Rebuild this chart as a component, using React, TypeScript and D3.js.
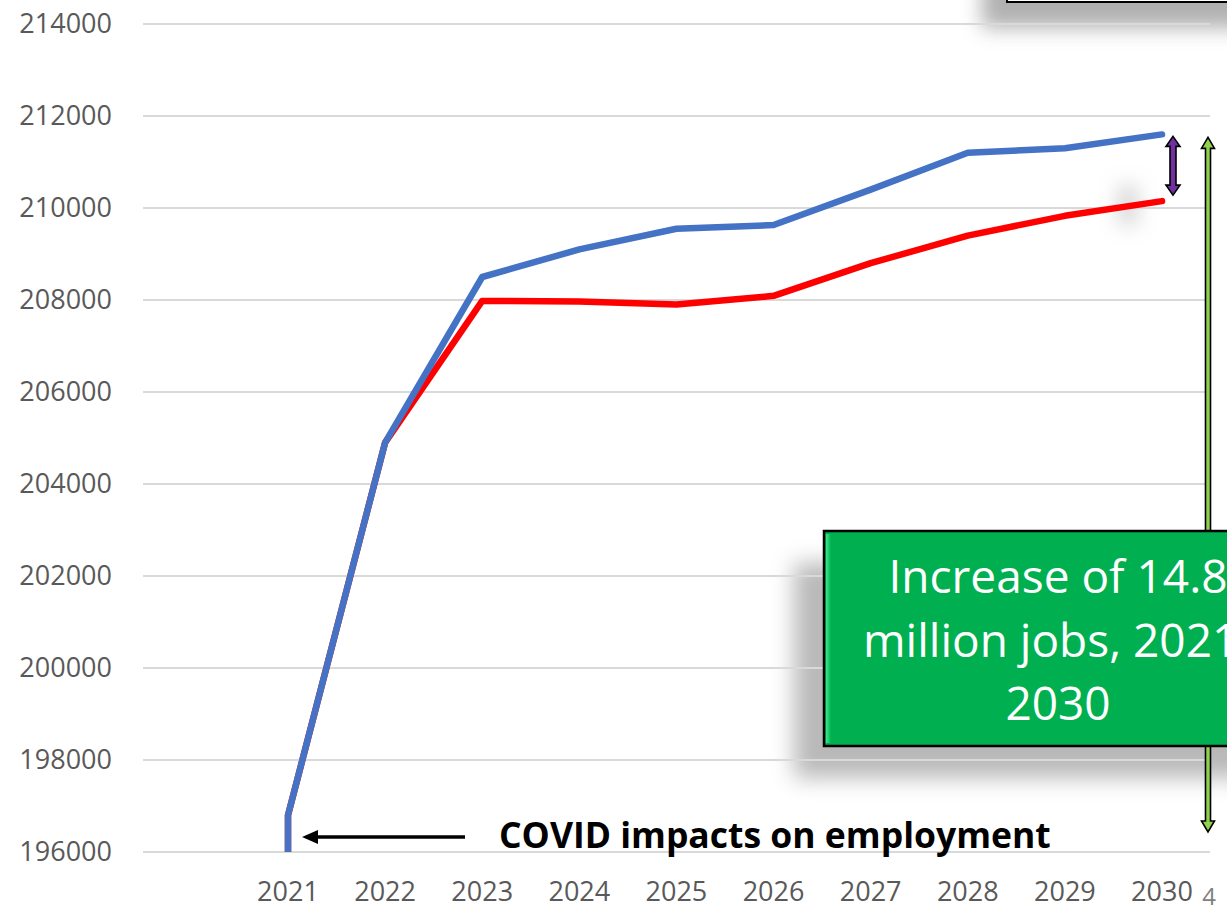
import React from "react";
import * as d3 from "d3";

const years = [2021, 2022, 2023, 2024, 2025, 2026, 2027, 2028, 2029, 2030];
const blueSeries = [196800, 204900, 208500, 209100, 209550, 209630, 210400, 211200, 211300, 211600];
const redSeries = [196800, 204900, 207980, 207970, 207900, 208090, 208800, 209400, 209830, 210150];
const yTicks = [196000, 198000, 200000, 202000, 204000, 206000, 208000, 210000, 212000, 214000];
const covidLow = 196000;
const boxLines = ["Increase of 14.8", "million jobs, 2021-", "2030"];
const covidLabel = "COVID impacts on employment";
const slideNumber = "4";

const W = 1227;
const H = 907;

export default function App() {
  const x = d3.scalePoint<number>().domain(years).range([288, 1162]);
  const y = d3.scaleLinear().domain([196000, 214000]).range([852, 24]);
  const gridX0 = 143;
  const gridX1 = 1210;

  const line = d3
    .line<[number, number]>()
    .x((d) => x(d[0]) as number)
    .y((d) => y(d[1]));

  const mk = (vals: number[]): [number, number][] => [
    [years[0], covidLow],
    ...vals.map((v, i) => [years[i], v] as [number, number]),
  ];

  const font = "'Open Sans', 'Noto Sans', sans-serif";
  const lastX = x(years[years.length - 1]) as number;
  const purpleX = lastX + 11;
  const greenX = gridX1 - 2;

  const dblArrow = (cx: number, y0: number, y1: number, shaft: number, head: number, hl: number, fill: string) => {
    const s = shaft / 2;
    const h = head / 2;
    const d = [
      `M${cx},${y0}`,
      `L${cx + h},${y0 + hl}`,
      `L${cx + s},${y0 + hl}`,
      `L${cx + s},${y1 - hl}`,
      `L${cx + h},${y1 - hl}`,
      `L${cx},${y1}`,
      `L${cx - h},${y1 - hl}`,
      `L${cx - s},${y1 - hl}`,
      `L${cx - s},${y0 + hl}`,
      `L${cx - h},${y0 + hl}`,
      "Z",
    ].join(" ");
    return <path d={d} fill={fill} stroke="#000" strokeWidth={1.6} strokeLinejoin="miter" />;
  };

  const boxX = 824;
  const boxY = 531;
  const boxW = 470;
  const boxH = 215;
  const boxCx = boxX + boxW / 2 - 1;

  return (
    <svg
      width={W}
      height={H}
      style={{ position: "absolute", left: 0, top: 0, background: "#fff" }}
      xmlns="http://www.w3.org/2000/svg"
    >
      <defs>
        <clipPath id="plot">
          <rect x={gridX0} y={y(214000)} width={gridX1 - gridX0} height={y(196000) - y(214000)} />
        </clipPath>
        <filter id="blur" x="-100%" y="-100%" width="300%" height="300%">
          <feGaussianBlur stdDeviation="10" />
        </filter>
        <filter id="blur2" x="-50%" y="-50%" width="200%" height="200%">
          <feGaussianBlur stdDeviation="11" />
        </filter>
        <linearGradient id="bevel" x1="0" x2="1" y1="0" y2="0">
          <stop offset="0" stopColor="#3ee98c" />
          <stop offset="1" stopColor="#00B050" />
        </linearGradient>
      </defs>

      {/* top-right off-screen box shadow */}
      <rect x={982} y={-60} width={300} height={88} fill="#a8a8a8" filter="url(#blur)" opacity={0.9} />
      {/* green box shadow */}
      <rect x={794} y={563} width={470} height={215} fill="#8a8a8a" filter="url(#blur2)" opacity={0.6} />
      {/* faint shadow blob */}
      <rect x={1118} y={185} width={20} height={40} fill="#bbb" filter="url(#blur)" opacity={0.6} />

      {/* gridlines */}
      {yTicks.map((t) => (
        <line key={t} x1={gridX0} x2={gridX1} y1={y(t)} y2={y(t)} stroke="#d9d9d9" strokeWidth={2} />
      ))}

      {/* y tick labels */}
      {yTicks.map((t) => (
        <text
          key={"l" + t}
          x={112}
          y={y(t)}
          dy="0.35em"
          textAnchor="end"
          fontFamily={font}
          fontSize={27}
          fill="#595959"
        >
          {t}
        </text>
      ))}

      {/* x tick labels */}
      {years.map((yr) => (
        <text
          key={"x" + yr}
          x={x(yr) as number}
          y={901}
          textAnchor="middle"
          fontFamily={font}
          fontSize={27}
          fill="#595959"
        >
          {yr}
        </text>
      ))}
      <text x={1209} y={905} textAnchor="middle" fontFamily={font} fontSize={24} fill="#7f7f7f">
        {slideNumber}
      </text>

      <rect x={1007} y={-60} width={260} height={62} fill="#fff" stroke="#000" strokeWidth={2} />

      {/* lines */}
      <g clipPath="url(#plot)">
        <path d={line(mk(redSeries)) || ""} fill="none" stroke="#FF0000" strokeWidth={6.5} strokeLinecap="round" strokeLinejoin="round" />
        <path d={line(mk(blueSeries)) || ""} fill="none" stroke="#4472C4" strokeWidth={6.5} strokeLinecap="round" strokeLinejoin="round" />
      </g>

      {/* purple difference arrow */}
      {dblArrow(purpleX, y(blueSeries[9]) + 2, y(redSeries[9]) - 6, 6, 14, 10, "#7030A0")}

      {/* green total arrow */}
      {dblArrow(greenX, y(blueSeries[9]) + 3, 832, 5, 13, 11, "#92D050")}

      {/* green box */}
      <rect x={boxX} y={boxY} width={boxW} height={boxH} fill="#00B050" stroke="#000" strokeWidth={2.5} />
      <rect x={boxX + 2} y={boxY + 3} width={5} height={boxH - 6} fill="url(#bevel)" />
      {boxLines.map((l, i) => (
        <text
          key={"b" + i}
          x={boxCx}
          y={593 + i * 63.5}
          textAnchor="middle"
          fontFamily={font}
          fontSize={46}
          fill="#fff"
        >
          {l}
        </text>
      ))}

      {/* COVID annotation */}
      <line x1={465} x2={316} y1={837} y2={837} stroke="#000" strokeWidth={3.5} />
      <path d="M302,837 L318,830 L318,844 Z" fill="#000" />
      <text x={499} y={848} fontFamily={font} fontWeight="bold" fontSize={35.5} fill="#000">
        {covidLabel}
      </text>
    </svg>
  );
}
